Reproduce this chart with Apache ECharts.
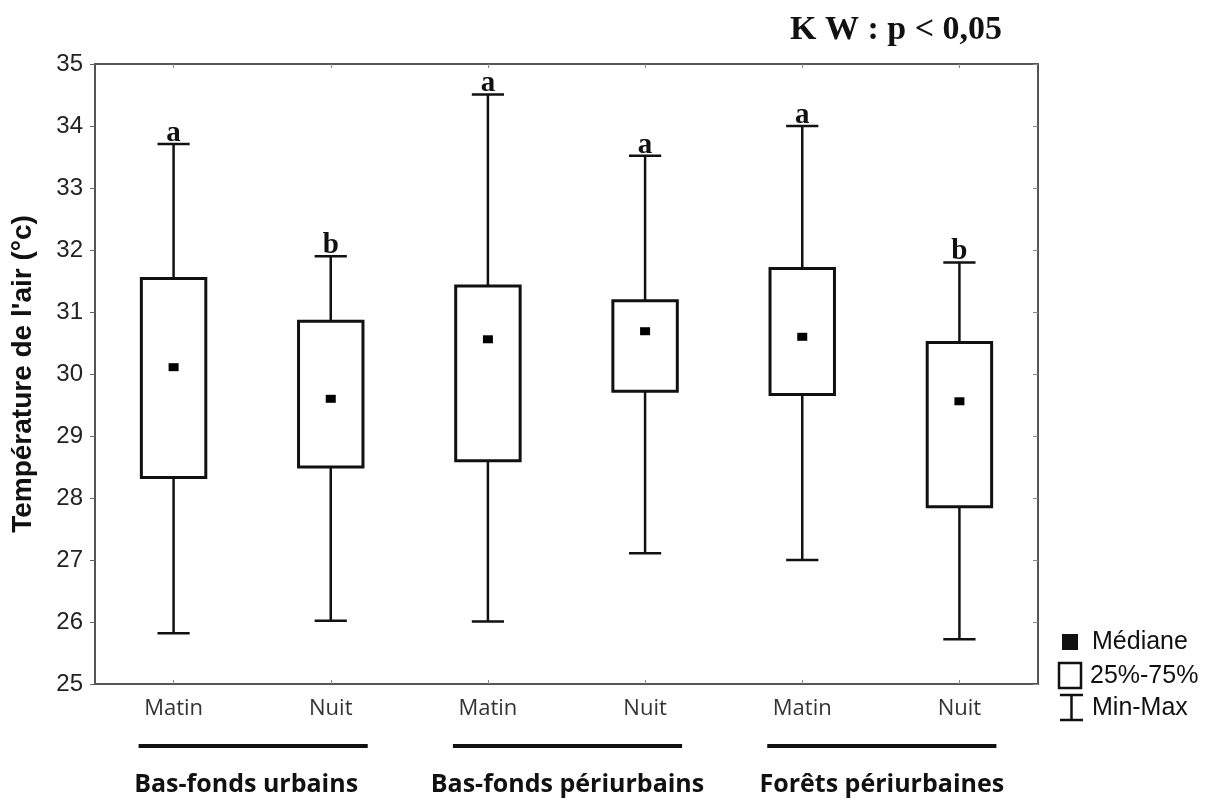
<!DOCTYPE html>
<html>
<head>
<meta charset="utf-8">
<script src="https://cdn.jsdelivr.net/npm/echarts@6/dist/echarts.min.js"></script>
<style>
html,body{margin:0;padding:0;background:#fff;}
#chart{width:1220px;height:800px;}
</style>
</head>
<body>
<div id="chart"></div>
<script>
// ---- data ----
const categories = ['Matin', 'Nuit', 'Matin', 'Nuit', 'Matin', 'Nuit'];
const minVals    = [25.82, 26.02, 26.01, 27.11, 27.00, 25.72];
const q1Vals     = [28.33, 28.50, 28.60, 29.72, 29.67, 27.86];
const medianVals = [30.11, 29.60, 30.56, 30.69, 30.60, 29.56];
const q3Vals     = [31.54, 30.85, 31.42, 31.18, 31.70, 30.51];
const maxVals    = [33.71, 31.90, 34.51, 33.52, 34.00, 31.80];
const letters    = ['a', 'b', 'a', 'a', 'a', 'b'];
const groups     = ['Bas-fonds urbains', 'Bas-fonds périurbains', 'Forêts périurbaines'];
const groupSpans = [[0, 1], [2, 3], [4, 5]];
const yMin = 25, yMax = 35, yStep = 1;
const titleText = 'K W : p < 0,05';
const yName = "Température de l'air (°c)";
const legendLabels = ['Médiane', '25%-75%', 'Min-Max'];

const boxData = categories.map((c, i) => [i, minVals[i], q1Vals[i], medianVals[i], q3Vals[i], maxVals[i]]);

const chart = echarts.init(document.getElementById('chart'), null, {renderer: 'canvas'});

function renderItem(params, api) {
  const idx = api.value(0);
  const xc = api.coord([idx, yMin])[0];
  const y = k => api.coord([idx, api.value(k)])[1];
  const pMin = y(1), pQ1 = y(2), pMed = y(3), pQ3 = y(4), pMax = y(5);
  const band = api.size([1, 0])[0];
  const bw = band * 0.41, cw = band * 0.205;
  const ls = {stroke: '#111', lineWidth: 2.5, fill: null};
  return {
    type: 'group',
    children: [
      {type: 'line', shape: {x1: xc, y1: pMax, x2: xc, y2: pQ3}, style: ls},
      {type: 'line', shape: {x1: xc, y1: pQ1, x2: xc, y2: pMin}, style: ls},
      {type: 'line', shape: {x1: xc - cw / 2, y1: pMax, x2: xc + cw / 2, y2: pMax}, style: ls},
      {type: 'line', shape: {x1: xc - cw / 2, y1: pMin, x2: xc + cw / 2, y2: pMin}, style: ls},
      {type: 'rect', shape: {x: xc - bw / 2, y: pQ3, width: bw, height: pQ1 - pQ3},
        style: {stroke: '#111', lineWidth: 3, fill: '#fff'}},
      {type: 'rect', shape: {x: xc - 5, y: pMed - 4, width: 10, height: 8}, style: {fill: '#000'}},
      {type: 'text', x: xc, y: pMax + 4,
        style: {text: letters[params.dataIndex], font: 'bold 29px "Liberation Serif"',
          align: 'center', verticalAlign: 'bottom', fill: '#111'}}
    ]
  };
}

const frameColor = '#555';
const option = {
  animation: false,
  backgroundColor: '#fff',
  grid: {left: 95, right: 182, top: 64, bottom: 116, show: false},
  xAxis: [
    {
      type: 'category', data: categories, boundaryGap: true, position: 'bottom',
      axisLine: {show: true, lineStyle: {color: frameColor, width: 2}},
      axisTick: {show: true, inside: true, alignWithLabel: true, length: 4, lineStyle: {color: '#888'}},
      axisLabel: {fontFamily: 'Open Sans', fontSize: 22, color: '#333', margin: 14},
      splitLine: {show: false}
    },
    {
      type: 'category', data: categories, boundaryGap: true, position: 'top',
      axisLine: {show: true, lineStyle: {color: frameColor, width: 2}},
      axisTick: {show: true, inside: true, alignWithLabel: true, length: 4, lineStyle: {color: '#888'}},
      axisLabel: {show: false},
      splitLine: {show: false}
    }
  ],
  yAxis: [
    {
      type: 'value', min: yMin, max: yMax, interval: yStep, position: 'left',
      name: yName, nameLocation: 'middle', nameRotate: 90, nameGap: 58,
      nameTextStyle: {fontFamily: 'Liberation Sans', fontWeight: 'bold', fontSize: 28, color: '#111'},
      axisLine: {show: true, lineStyle: {color: frameColor, width: 2}},
      axisTick: {show: true, inside: false, length: 5, lineStyle: {color: '#666'}},
      axisLabel: {fontFamily: 'Liberation Sans', fontSize: 24, color: '#222', margin: 12},
      splitLine: {show: false}
    },
    {
      type: 'value', min: yMin, max: yMax, interval: yStep, position: 'right',
      axisLine: {show: true, lineStyle: {color: frameColor, width: 2}},
      axisTick: {show: true, inside: true, length: 5, lineStyle: {color: '#888'}},
      axisLabel: {show: false},
      splitLine: {show: false}
    }
  ],
  series: [{
    type: 'custom',
    xAxisIndex: 0, yAxisIndex: 0,
    renderItem: renderItem,
    encode: {x: 0, y: [1, 2, 3, 4, 5]},
    data: boxData,
    clip: false,
    z: 10
  }]
};
chart.setOption(option);

// ---- annotations laid out from axis positions ----
const gfx = [];
gfx.push({type: 'text', x: 896, y: 30,
  style: {text: titleText, font: 'bold 34px "Liberation Serif"', align: 'center', verticalAlign: 'middle', fill: '#111'}});
groupSpans.forEach((span, g) => {
  const a = chart.convertToPixel({xAxisIndex: 0}, span[0]);
  const b = chart.convertToPixel({xAxisIndex: 0}, span[1]);
  const x1 = a - 35, x2 = b + 37;
  gfx.push({type: 'line', shape: {x1: x1, y1: 746, x2: x2, y2: 746}, style: {stroke: '#111', lineWidth: 4}});
  gfx.push({type: 'text', x: (x1 + x2) / 2 + (g === 0 ? -7 : 0), y: 785,
    style: {text: groups[g], font: 'bold 25px "Open Sans"', align: 'center', verticalAlign: 'middle', fill: '#111'}});
});
// legend
gfx.push({type: 'rect', shape: {x: 1062, y: 634, width: 16, height: 16}, style: {fill: '#111'}});
gfx.push({type: 'text', x: 1092, y: 642, style: {text: legendLabels[0], font: '25px "Liberation Sans"', verticalAlign: 'middle', fill: '#111'}});
gfx.push({type: 'rect', shape: {x: 1059, y: 663, width: 22, height: 25}, style: {fill: '#fff', stroke: '#111', lineWidth: 2.5}});
gfx.push({type: 'text', x: 1090, y: 676, style: {text: legendLabels[1], font: '25px "Liberation Sans"', verticalAlign: 'middle', fill: '#111'}});
gfx.push({type: 'line', shape: {x1: 1060, y1: 695, x2: 1083, y2: 695}, style: {stroke: '#111', lineWidth: 2.5}});
gfx.push({type: 'line', shape: {x1: 1060, y1: 720, x2: 1083, y2: 720}, style: {stroke: '#111', lineWidth: 2.5}});
gfx.push({type: 'line', shape: {x1: 1071.5, y1: 695, x2: 1071.5, y2: 720}, style: {stroke: '#111', lineWidth: 2.5}});
gfx.push({type: 'text', x: 1092, y: 708, style: {text: legendLabels[2], font: '25px "Liberation Sans"', verticalAlign: 'middle', fill: '#111'}});
chart.setOption({graphic: {elements: gfx}});
</script>
</body>
</html>
